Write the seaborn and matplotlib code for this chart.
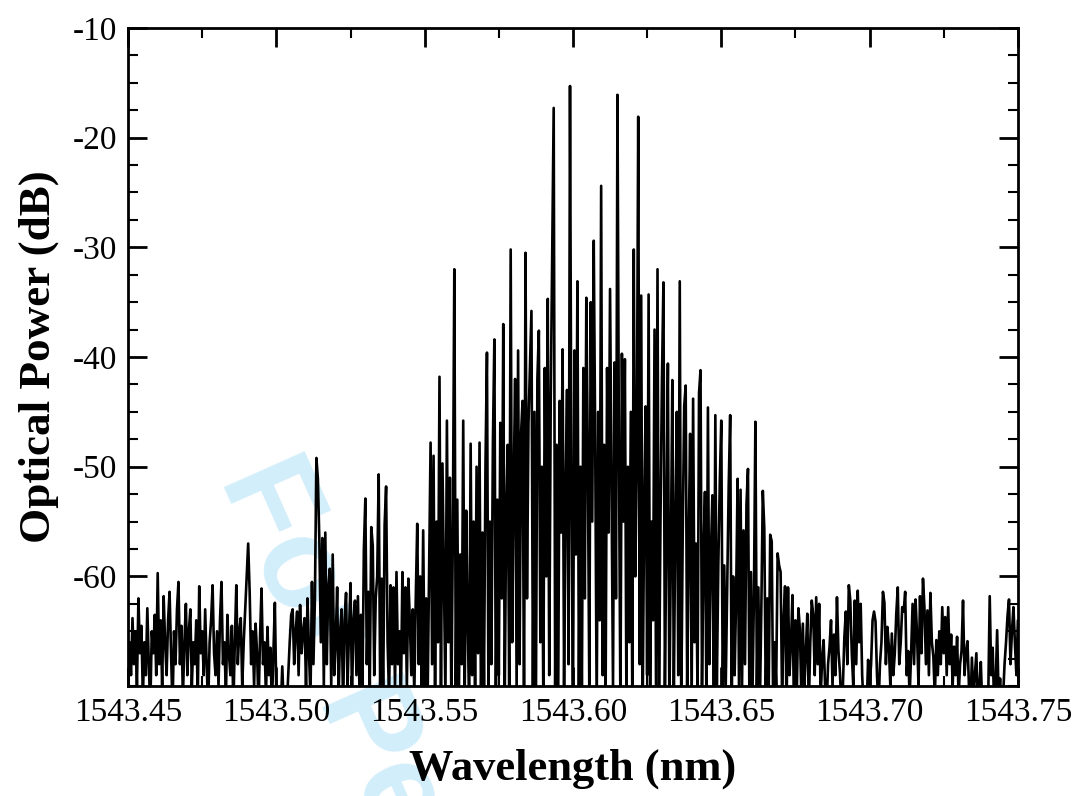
import numpy as np
import pandas as pd
import matplotlib
matplotlib.use("Agg")
import matplotlib.pyplot as plt
import seaborn as sns
from matplotlib.ticker import MultipleLocator

# OSA trace, 1543.45 - 1543.75 nm, 0.0005 nm sampling (601 points)
lambda_start = 1543.45
lambda_stop = 1543.75

power_left = [
    -70, -66, -69, -63.8, -68, -65, -70, -62, -67, -64.5, -71, -66, -69, -62.9, -68, -72, -65, -67, -63.5, -69,
    -59.7, -68, -64, -70, -61.8, -66, -69, -64, -61.4, -67, -72, -65, -68, -63, -60.5, -68, -64.5, -71, -66, -62.5,
    -69, -65, -63, -70, -66, -68, -64, -71, -60.9, -67, -65, -69, -63, -68, -72, -66, -64, -60.8, -67, -69,
    -65, -70, -64, -60.5, -68, -66, -71, -63.5, -67, -69, -64.5, -72, -66, -60.8, -68, -65, -63.8, -70, -66, -63,
    -60, -57, -61.4, -68, -65, -70, -64.3, -67, -72, -65.5, -61.1, -68, -66, -71, -64.6, -69, -66.5, -72, -67, -62.4,
    -71, -72, -70.5, -72, -68.2, -72, -71, -72, -69, -66, -63.5, -63, -68, -65, -63.2, -69, -62.6, -67, -65, -63.8,
    -70, -62, -67, -71, -60.5, -68, -62, -49.2, -51.1, -56.8, -66, -56.5, -70, -56, -68, -61, -59.3, -70, -58, -69,
    -66, -61, -71, -65, -63, -72, -64, -61.5, -70, -65, -60.6, -71, -64, -62.2, -69, -61.8, -70, -63.5, -71, -57.6,
    -52.9, -68, -61.4, -70, -55.5, -57.2, -69, -62, -60, -50.7, -70, -60.2, -71, -55.3, -51.8, -66, -71, -60.8, -68, -61,
    -70, -59.6, -68, -65, -71, -59.6, -67, -61, -70, -60.2, -64, -69, -63, -71, -62, -55.2, -68, -60, -70, -55.8,
]

power_center = [
    -70, -62, -71, -59, -47.8, -68, -49, -72, -55, -66, -41.8, -70, -49.7, -60, -71, -45.8, -66, -51, -72, -56,
    -32, -70, -53, -72, -58, -68, -45.8, -71, -54, -64, -72, -47.9, -69, -55, -71, -50, -67, -47.8, -72, -56,
    -70, -50, -39.6, -71, -55, -68, -48, -38.4, -72, -53, -69, -46, -62, -37, -71, -54, -48, -70, -30.2, -66,
    -52, -42, -70, -39.4, -68, -47, -44, -72, -30.5, -62, -46, -41, -35.8, -70, -45, -72, -42, -37.6, -66, -50,
    -71, -41, -60, -34.7, -69, -44, -30.5, -17.3, -70, -48, -72, -44, -56, -39.3, -70, -52, -43, -68, -15.3, -54,
    -72, -39.4, -58, -33.1, -70, -50, -71, -41, -62, -34.6, -49, -70, -35, -55, -29.4, -48, -72, -45, -64, -24.4,
    -69, -48, -71, -41, -56, -33.8, -52, -70, -40.5, -62, -16.1, -49, -72, -39.7, -55, -40.2, -70, -50, -66, -45,
    -71, -30.2, -60, -50, -18.1, -68, -34.4, -72, -54, -44.5, -69, -34.3, -71, -55, -64, -37.5, -70, -32, -72, -55,
    -42, -33.2, -70, -56, -40.6, -72, -58, -42.1, -71, -55, -45, -69, -33.1, -72, -56, -44.5, -42.6, -70, -57, -47,
    -72, -43.8, -66, -57, -71, -43.3, -41.2, -70, -58, -52.3, -72, -44.6, -68, -58, -52.6, -71, -45.3, -70, -59, -51.4,
]

power_right = [
    -45.8, -71, -59, -70, -61, -51.8, -45.3, -72, -60, -69, -62, -51.1, -71, -52.1, -70, -55.8, -68, -53.4, -50.2, -72,
    -59.6, -71, -62, -45.9, -70, -61, -72, -63, -52.2, -55.6, -71, -62, -70, -56.2, -56.8, -72, -66, -70, -57.9, -59,
    -59.6, -71, -64, -60.9, -72, -61, -69, -66, -61.7, -72, -64, -70, -62.9, -64.8, -71, -64.3, -70, -67, -63.4, -72,
    -66, -62.2, -63.5, -69, -61.9, -68, -62.5, -71, -67.6, -65.8, -70, -72, -68, -66.4, -64, -70, -65.3, -69, -61.9, -66.8,
    -68.7, -72, -70, -65.5, -63.2, -68, -60.8, -62.2, -67, -70, -62.2, -68, -61.3, -66, -62.5, -69, -72, -71, -72, -67.6,
    -70, -68, -64, -63.2, -64.1, -69, -72, -68, -66, -61.4, -62.4, -68, -64.6, -66.4, -70, -65.2, -69, -67, -63.4, -61,
    -68, -66, -62.8, -63.2, -61.4, -69, -66.8, -71, -67, -62.5, -68, -62.1, -65.3, -70, -61.8, -67, -60.2, -62.9, -68, -63.1,
    -69, -61.5, -66, -67.3, -71, -65.8, -69, -65, -68, -62.8, -67, -63.7, -69, -62.8, -68, -65.3, -70, -66.4, -69, -65.5,
    -71, -68, -66.8, -62.2, -69, -67, -65.9, -70, -72, -67.4, -71, -69, -67, -72, -70, -67.8, -72, -71, -72, -72,
    -71, -61.8, -69, -66.5, -72, -70, -64.9, -71, -69.3, -72, -71, -68, -66, -63.6, -62.1, -68, -65, -62.8, -66.1, -69,
    -64,
]

power = power_left + power_center + power_right
wavelength = np.linspace(lambda_start, lambda_stop, len(power))
df = pd.DataFrame({"wavelength": wavelength, "power": power})

sns.set_style("ticks")
plt.rcParams["font.family"] = ["Liberation Serif", "DejaVu Serif"]
plt.rcParams["axes.unicode_minus"] = False
for key in ["text.color", "axes.labelcolor", "xtick.color", "ytick.color", "axes.edgecolor"]:
    plt.rcParams[key] = "black"

fig = plt.figure(figsize=(10.76, 7.96), dpi=100)
ax = fig.add_axes([0.119, 0.138, 0.827, 0.827])

# faint watermark behind the trace
ax.text(0.232, 0.415, "For Peer Review", transform=fig.transFigure,
        rotation=-66, rotation_mode="anchor", ha="left", va="center",
        fontsize=92, fontweight="bold", family="Liberation Sans",
        color="#d2eefb", zorder=0, clip_on=False)

sns.lineplot(data=df, x="wavelength", y="power", color="black", lw=1.9,
             estimator=None, ax=ax, zorder=2)

ax.set_xlim(lambda_start, lambda_stop)
ax.set_ylim(-70, -10)
ax.set_xticks([1543.45, 1543.50, 1543.55, 1543.60, 1543.65, 1543.70, 1543.75])
ax.set_xticklabels(["1543.45", "1543.50", "1543.55", "1543.60", "1543.65", "1543.70", "1543.75"])
ax.set_yticks([-60, -50, -40, -30, -20, -10])
ax.xaxis.set_minor_locator(MultipleLocator(0.025))
ax.yaxis.set_minor_locator(MultipleLocator(2.5))

ax.tick_params(which="both", direction="in", top=True, right=True, labelsize=24, pad=8)
ax.tick_params(which="major", length=14, width=2)
ax.tick_params(which="minor", length=7, width=1.5)
for s in ax.spines.values():
    s.set_linewidth(2)

ax.set_xlabel("Wavelength (nm)", fontsize=32, fontweight="bold", labelpad=15)
ax.set_ylabel("Optical Power (dB)", fontsize=32.5, fontweight="bold", labelpad=10)

fig.savefig("out.png", dpi=100)
